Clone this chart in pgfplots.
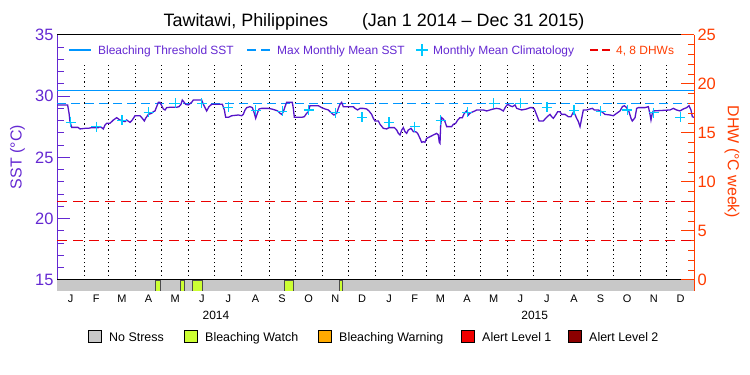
\documentclass[border=0pt]{standalone}
\usepackage{fontspec}
\setmainfont{Liberation Sans}
\usepackage{pgfplots}
\pgfplotsset{compat=1.18}
\definecolor{sstpurple}{RGB}{85,20,200}
\definecolor{labpurple}{RGB}{100,40,210}
\definecolor{thrblue}{RGB}{0,150,255}
\definecolor{climcyan}{RGB}{0,200,255}
\definecolor{dhwred}{RGB}{235,0,0}
\definecolor{axorange}{RGB}{255,60,0}
\definecolor{nostress}{RGB}{200,200,200}
\definecolor{watch}{RGB}{204,255,51}
\definecolor{warning}{RGB}{255,170,0}
\definecolor{alertone}{RGB}{240,0,0}
\definecolor{alerttwo}{RGB}{140,0,0}

\pgfplotstableread{
day sst
0 29.29
12.2 29.29
13.8 28.61
14.9 27.93
16.8 27.46
24 27.46
26.4 27.33
32.1 27.38
35.9 27.38
39.7 27.44
47.4 27.44
49.3 27.52
51.2 27.44
53.1 27.33
55.0 27.65
56.9 27.79
60.7 27.79
64.6 28.06
68.4 28.25
71.0 28.12
74.1 27.98
77.9 27.93
79.8 28.06
83.7 27.87
86.3 28.06
89.4 28.41
95.1 28.41
97.8 28.20
100.1 27.98
101.6 28.20
104.7 28.52
108.5 28.61
110.4 28.74
112.3 28.80
114.2 29.15
116.1 29.50
118.0 29.50
120.0 29.23
121.9 28.96
123.8 28.88
125.7 29.07
129.5 29.10
137.1 29.10
139.8 29.15
142.1 29.34
143.6 29.69
145.1 29.56
147.4 29.34
150.5 29.29
154.3 29.50
156.2 29.69
165.8 29.69
167.7 29.34
171.5 28.80
174.2 29.15
177.2 29.34
183.0 29.34
189.5 29.34
191.8 28.88
193.3 28.28
196.4 28.28
200.2 28.41
207.8 28.47
211.6 28.41
213.5 28.52
215.5 28.88
217.4 29.07
221.2 29.15
223.9 29.07
226.1 28.61
227.7 28.20
229.6 28.61
231.5 28.96
234.5 29.01
242.2 29.01
246.0 28.96
249.8 28.88
252.9 28.80
255.6 28.61
257.5 28.52
259.4 28.74
261.3 29.15
263.2 29.50
269.7 29.50
270.8 29.01
272.0 28.28
280.4 28.28
283.4 28.33
286.1 28.61
288.0 28.74
289.9 29.23
299.5 29.23
303.3 29.07
307.1 28.96
311.0 28.88
314.8 28.61
317.4 28.47
320.5 28.61
322.4 29.01
324.3 29.34
326.2 29.50
328.1 29.15
339.6 29.15
341.5 29.01
344.5 28.88
347.2 29.01
351.0 29.01
354.9 28.96
357.5 28.80
360.6 28.52
362.5 28.20
364.4 27.98
368.3 27.98
370.2 27.71
374.0 27.38
377.8 27.33
380.5 27.44
386.6 27.44
389.3 27.24
391.2 26.97
393.1 26.84
395.0 27.24
396.9 27.44
398.8 27.11
400.7 26.97
402.6 27.24
405.7 27.38
408.4 27.11
411.0 27.11
413.3 26.97
416.0 26.56
417.9 26.24
419.8 26.29
421.7 26.24
423.6 26.56
427.5 26.70
431.3 26.84
435.1 26.97
437.0 26.84
438.1 26.24
438.9 26.16
439.7 27.65
440.8 28.25
442.7 28.14
444.6 27.93
446.6 27.52
452.3 27.52
454.2 27.71
456.9 27.79
459.2 28.06
461.8 28.25
464.5 28.25
466.8 28.61
469.5 28.80
471.4 28.47
473.3 28.61
475.2 28.69
479.0 28.80
480.9 28.88
488.6 28.88
492.4 28.80
496.2 28.88
500.0 28.96
503.8 29.01
507.7 28.96
511.5 28.80
514.2 29.15
516.5 29.34
519.1 29.23
521.8 29.15
524.9 29.29
526.8 29.01
532.5 28.88
538.2 28.96
542.1 29.07
544.7 29.07
547.0 28.96
549.7 28.47
552.4 27.98
557.3 27.98
560.0 28.20
563.1 28.41
565.0 28.52
566.9 28.33
568.8 28.20
571.5 28.47
573.8 28.74
576.4 28.74
578.3 28.52
582.2 28.52
586.0 28.33
589.0 28.33
591.7 28.69
593.6 28.52
595.5 28.20
597.5 27.93
599.4 27.52
601.3 28.20
603.2 28.88
607.0 28.88
610.8 28.96
613.5 29.01
615.8 28.88
620.4 28.88
624.2 28.74
628.0 28.52
633.7 28.47
637.6 28.41
641.4 28.61
645.2 28.80
647.9 29.15
650.2 29.23
652.8 29.07
655.5 28.74
657.8 28.20
659.3 27.98
662.4 28.25
664.3 29.01
666.2 29.07
673.8 29.07
677.7 29.15
679.6 28.52
680.7 28.06
682.2 28.61
683.4 28.80
702.5 28.88
706.3 29.01
710.1 28.88
713.9 28.80
717.8 28.96
721.6 29.07
724.3 29.23
726.5 28.88
728.1 28.33
730 28.28
}\ssttable

\pgfplotstableread{
day clim
15.5 27.86
45 27.52
74.5 28.03
105 28.70
135.5 29.44
166 29.41
196.5 29.10
227.5 28.85
258 28.76
288.5 28.88
319 28.65
349.5 28.27
380.5 27.86
410 27.52
439.5 28.03
470 28.70
500.5 29.44
531 29.41
561.5 29.10
592.5 28.85
623 28.76
653.5 28.88
684 28.65
714.5 28.27
}\climtable

\begin{document}
\begin{tikzpicture}
\useasboundingbox (0,0) rectangle (750bp,375bp);
% title
\node[anchor=base, inner sep=0pt, font=\fontsize{18}{20}\selectfont] at (374bp,348bp)
  {Tawitawi, Philippines\hspace{34bp}(Jan 1 2014 -- Dec 31 2015)};

\begin{axis}[
  at={(57bp,84bp)}, anchor=south west,
  width=637bp, height=256bp, scale only axis,
  xmin=0, xmax=730, ymin=14.102, ymax=35,
  separate axis lines,
  x axis line style={black, line width=1bp},
  y axis line style={labpurple, line width=1bp},
  xtick={15.5,45,74.5,105,135.5,166,196.5,227.5,258,288.5,319,349.5,380.5,410,439.5,470,500.5,531,561.5,592.5,623,653.5,684,714.5},
  xticklabels={J,F,M,A,M,J,J,A,S,O,N,D,J,F,M,A,M,J,J,A,S,O,N,D},
  x tick style={draw=none},
  xticklabel style={font=\fontsize{11}{12}\selectfont, text=black},
  ytick={15,20,25,30,35},
  minor ytick={16,17,18,19,21,22,23,24,26,27,28,29,31,32,33,34},
  ytick pos=left,
  tick align=inside,
  major tick length=13bp, minor tick length=6.5bp,
  y tick style={labpurple, line width=1bp},
  yticklabel style={font=\fontsize{16.5}{18}\selectfont, text=labpurple},
  /pgf/number format/assume math mode=true,
  ylabel={SST (°C)},
  every axis y label/.style={at={(axis description cs:-0.062,0.523)}, anchor=center, rotate=90,
     font=\fontsize{16}{18}\selectfont, text=labpurple},
  unbounded coords=jump,
]
% stress bar
\addplot[fill=nostress, draw=none] coordinates {(0,14.102) (730,14.102) (730,15) (0,15)} -- cycle;
\addplot[fill=watch, draw=black!70, line width=0.5bp] coordinates {(112.3,14.102) (118.0,14.102) (118.0,15) (112.3,15)} -- cycle;
\addplot[fill=watch, draw=black!70, line width=0.5bp] coordinates {(140.9,14.102) (145.5,14.102) (145.5,15) (140.9,15)} -- cycle;
\addplot[fill=watch, draw=black!70, line width=0.5bp] coordinates {(155.0,14.102) (167.0,14.102) (167.0,15) (155.0,15)} -- cycle;
\addplot[fill=watch, draw=black!70, line width=0.5bp] coordinates {(260.5,14.102) (271.3,14.102) (271.3,15) (260.5,15)} -- cycle;
\addplot[fill=watch, draw=black!70, line width=0.5bp] coordinates {(323.5,14.102) (327.4,14.102) (327.4,15) (323.5,15)} -- cycle;
\addplot[black, line width=1bp] coordinates {(0,15) (730,15)};
% month separators
\addplot[black, line width=1bp, dash pattern=on 1.2bp off 3bp] coordinates {
(31,15) (31,32.55) (31,nan)
(59,15) (59,32.55) (59,nan)
(90,15) (90,32.55) (90,nan)
(120,15) (120,32.55) (120,nan)
(151,15) (151,32.55) (151,nan)
(181,15) (181,32.55) (181,nan)
(212,15) (212,32.55) (212,nan)
(243,15) (243,32.55) (243,nan)
(273,15) (273,32.55) (273,nan)
(304,15) (304,32.55) (304,nan)
(334,15) (334,32.55) (334,nan)
(365,15) (365,32.55) (365,nan)
(396,15) (396,32.55) (396,nan)
(424,15) (424,32.55) (424,nan)
(455,15) (455,32.55) (455,nan)
(485,15) (485,32.55) (485,nan)
(516,15) (516,32.55) (516,nan)
(546,15) (546,32.55) (546,nan)
(577,15) (577,32.55) (577,nan)
(608,15) (608,32.55) (608,nan)
(638,15) (638,32.55) (638,nan)
(669,15) (669,32.55) (669,nan)
(699,15) (699,32.55)
};
% threshold and MMM
\addplot[thrblue, line width=1.2bp] coordinates {(0,30.49) (730,30.49)};
\addplot[thrblue, line width=1.2bp, dash pattern=on 9bp off 5bp] coordinates {(0,29.42) (730,29.42)};
% SST
\addplot[sstpurple, line width=1.3bp] table[x=day, y=sst] {\ssttable};
% climatology
\addplot[only marks, mark=+, mark size=5bp, climcyan, line width=1.2bp] table[x=day, y=clim] {\climtable};
\end{axis}

\begin{axis}[
  at={(57bp,84bp)}, anchor=south west,
  width=637bp, height=256bp, scale only axis,
  xmin=0, xmax=730, ymin=-1.1224, ymax=25,
  axis x line=none, axis y line*=right,
  y axis line style={-, axorange, line width=1bp},
  ytick={0,5,10,15,20,25},
  minor ytick={1,2,3,4,6,7,8,9,11,12,13,14,16,17,18,19,21,22,23,24},
  tick align=inside,
  major tick length=13bp, minor tick length=6.5bp,
  y tick style={axorange, line width=1bp},
  yticklabel style={font=\fontsize{16.5}{18}\selectfont, text=axorange},
  /pgf/number format/assume math mode=true,
  ylabel={DHW (°C week)},
  every axis y label/.style={at={(axis description cs:1.0597,0.504)}, anchor=center, rotate=-90,
     font=\fontsize{16}{18}\selectfont, text=axorange},
]
\addplot[dhwred, line width=1.2bp, dash pattern=on 10bp off 6bp] coordinates {(0,4) (730,4)};
\addplot[dhwred, line width=1.2bp, dash pattern=on 10bp off 6bp] coordinates {(0,8) (730,8)};
\end{axis}

% top legend
\begin{scope}[every node/.style={anchor=base west, inner sep=0pt, font=\fontsize{12}{14}\selectfont}]
\draw[thrblue, line width=1.2bp] (69bp,325bp) -- (91bp,325bp);
\node[text=labpurple] at (98bp,320.5bp) {Bleaching Threshold SST};
\draw[thrblue, line width=1.2bp, dash pattern=on 9bp off 5bp] (247bp,325bp) -- (270bp,325bp);
\node[text=labpurple] at (277bp,320.5bp) {Max Monthly Mean SST};
\draw[climcyan, line width=1.2bp] (416bp,325bp) -- (428bp,325bp) (422bp,319bp) -- (422bp,331bp);
\node[text=labpurple] at (433bp,320.5bp) {Monthly Mean Climatology};
\draw[dhwred, line width=1.2bp, dash pattern=on 8bp off 4bp] (590bp,325bp) -- (610bp,325bp);
\node[text=axorange] at (616bp,320.5bp) {4, 8 DHWs};
\end{scope}

% year labels
\node[anchor=base, inner sep=0pt, font=\fontsize{12}{14}\selectfont] at (216bp,55bp) {2014};
\node[anchor=base, inner sep=0pt, font=\fontsize{12}{14}\selectfont] at (534.7bp,55bp) {2015};

% bottom legend
\begin{scope}[every node/.style={anchor=base west, inner sep=0pt, font=\fontsize{12.5}{14}\selectfont}]
\filldraw[fill=nostress, draw=black, line width=0.8bp] (88bp,33bp) rectangle (101bp,45bp);
\node at (109bp,34bp) {No Stress};
\filldraw[fill=watch, draw=black, line width=0.8bp] (184bp,33bp) rectangle (197bp,45bp);
\node at (205bp,34bp) {Bleaching Watch};
\filldraw[fill=warning, draw=black, line width=0.8bp] (318bp,33bp) rectangle (331bp,45bp);
\node at (339bp,34bp) {Bleaching Warning};
\filldraw[fill=alertone, draw=black, line width=0.8bp] (461bp,33bp) rectangle (474bp,45bp);
\node at (482bp,34bp) {Alert Level 1};
\filldraw[fill=alerttwo, draw=black, line width=0.8bp] (568bp,33bp) rectangle (581bp,45bp);
\node at (589bp,34bp) {Alert Level 2};
\end{scope}
\end{tikzpicture}
\end{document}
